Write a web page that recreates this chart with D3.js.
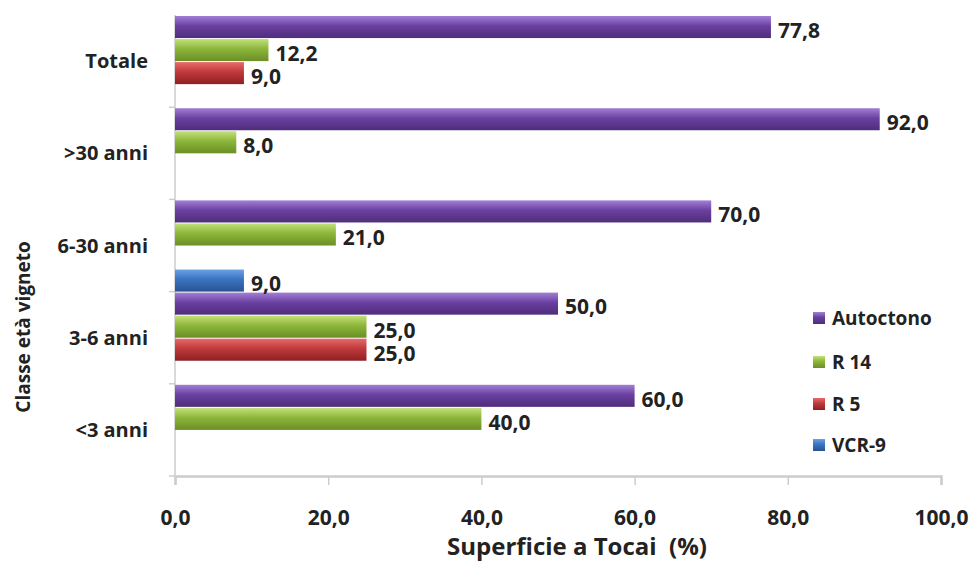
<!DOCTYPE html>
<html>
<head>
<meta charset="utf-8">
<script src="https://cdn.jsdelivr.net/npm/d3@7"></script>
<style>
  body { margin: 0; background: #fff; }
  text { font-family: "Open Sans", "Noto Sans", sans-serif; font-weight: bold; fill: #222; }
</style>
</head>
<body>
<div id="chart"></div>
<script>
// data
var categories = ["Totale", ">30 anni", "6-30 anni", "3-6 anni", "<3 anni"];
var seriesNames = ["Autoctono", "R 14", "R 5", "VCR-9"];
var autoctono = [77.8, 92.0, 70.0, 50.0, 60.0];
var r14 = [12.2, 8.0, 21.0, 25.0, 40.0];
var r5 = [9.0, null, null, 25.0, null];
var vcr9 = [null, null, 9.0, null, null];
var xTicks = [0, 20, 40, 60, 80, 100];

var allSeries = [autoctono, r14, r5, vcr9];
var colors = [
  ["#a27fd6", "#6a40a0", "#4f2d7c"],
  ["#c3e07a", "#8cb63a", "#6a8f26"],
  ["#e86a6a", "#c0393b", "#8e2022"],
  ["#6aa2e6", "#3a74c0", "#27548f"]
];

var svgWidth = 974, svgHeight = 567;
var margin = { top: 15, left: 175, right: 33, bottom: 91 };
var width = svgWidth - margin.left - margin.right;
var height = svgHeight - margin.top - margin.bottom;

var svg = d3.select("#chart").append("svg")
  .attr("width", svgWidth)
  .attr("height", svgHeight);

var defs = svg.append("defs");
colors.forEach(function(c, i) {
  var g = defs.append("linearGradient")
    .attr("id", "grad" + i)
    .attr("x1", 0).attr("y1", 0).attr("x2", 0).attr("y2", 1);
  g.append("stop").attr("offset", "0%").attr("stop-color", c[0]);
  g.append("stop").attr("offset", "45%").attr("stop-color", c[1]);
  g.append("stop").attr("offset", "100%").attr("stop-color", c[2]);
});

var chartGroup = svg.append("g")
  .attr("transform", `translate(${margin.left}, ${margin.top})`);

var xScale = d3.scaleLinear().domain([0, 100]).range([0, width]);
var yScale = d3.scaleBand().domain(categories).range([0, height]).padding(0);
var ySub = d3.scaleBand().domain(seriesNames).range([0, yScale.bandwidth()]).padding(0);

// axes
var xAxis = d3.axisBottom(xScale)
  .tickValues(xTicks)
  .tickSize(9)
  .tickFormat(d => d3.format(".1f")(d).replace(".", ","));

var xg = chartGroup.append("g")
  .attr("transform", `translate(0, ${height})`)
  .call(xAxis);
xg.select(".domain").attr("stroke", "#cccccc").attr("stroke-width", 2.5);
xg.selectAll(".tick line").attr("stroke", "#cccccc").attr("stroke-width", 1.5);
xg.selectAll(".tick text")
  .attr("y", 49)
  .attr("dy", null)
  .style("font-size", "21px")
  .style("font-family", "'Open Sans', sans-serif")
  .style("font-weight", "bold")
  .attr("fill", "#222");

// y axis line + band separators
chartGroup.append("line")
  .attr("x1", 0).attr("x2", 0).attr("y1", 0).attr("y2", height)
  .attr("stroke", "#cccccc").attr("stroke-width", 1.5);
chartGroup.selectAll(".sep")
  .data(categories)
  .enter()
  .append("line")
  .attr("x1", -6).attr("x2", 0)
  .attr("y1", d => yScale(d) + yScale.bandwidth())
  .attr("y2", d => yScale(d) + yScale.bandwidth())
  .attr("stroke", "#cccccc").attr("stroke-width", 1.5);

chartGroup.selectAll(".catLabel")
  .data(categories)
  .enter()
  .append("text")
  .attr("x", -27)
  .attr("y", d => yScale(d) + yScale.bandwidth() / 2)
  .attr("dy", "0.35em")
  .attr("text-anchor", "end")
  .attr("font-size", 20)
  .text(d => d);

// bars
var barData = [];
allSeries.forEach(function(vals, si) {
  vals.forEach(function(v, ci) {
    if (v !== null) barData.push({ s: si, cat: categories[ci], value: v });
  });
});

chartGroup.selectAll(".bar")
  .data(barData)
  .enter()
  .append("rect")
  .attr("x", 0)
  .attr("y", d => yScale(d.cat) + ySub(seriesNames[d.s]) + 1)
  .attr("width", d => xScale(d.value))
  .attr("height", ySub.bandwidth() - 1)
  .attr("fill", d => `url(#grad${d.s})`);

chartGroup.selectAll(".barLabel")
  .data(barData)
  .enter()
  .append("text")
  .attr("x", d => xScale(d.value) + 7)
  .attr("y", d => yScale(d.cat) + ySub(seriesNames[d.s]) + ySub.bandwidth() / 2 + 4)
  .attr("dy", "0.35em")
  .attr("font-size", 21)
  .text(d => d3.format(".1f")(d.value).replace(".", ","));

// axis titles
svg.append("text")
  .attr("x", 577)
  .attr("y", 555)
  .attr("text-anchor", "middle")
  .attr("font-size", 24)
  .style("white-space", "pre")
  .text("Superficie a Tocai  (%)");

svg.append("text")
  .attr("transform", "translate(30, 327) rotate(-90)")
  .attr("text-anchor", "middle")
  .attr("font-size", 19)
  .text("Classe età vigneto");

// legend
var legendY = [318, 362, 404, 445];
var legend = svg.append("g");
seriesNames.forEach(function(name, i) {
  legend.append("rect")
    .attr("x", 813).attr("y", legendY[i] - 6)
    .attr("width", 12).attr("height", 12)
    .attr("fill", `url(#grad${i})`);
  legend.append("text")
    .attr("x", 832).attr("y", legendY[i])
    .attr("dy", "0.35em")
    .attr("font-size", 19)
    .text(name);
});
</script>
</body>
</html>
